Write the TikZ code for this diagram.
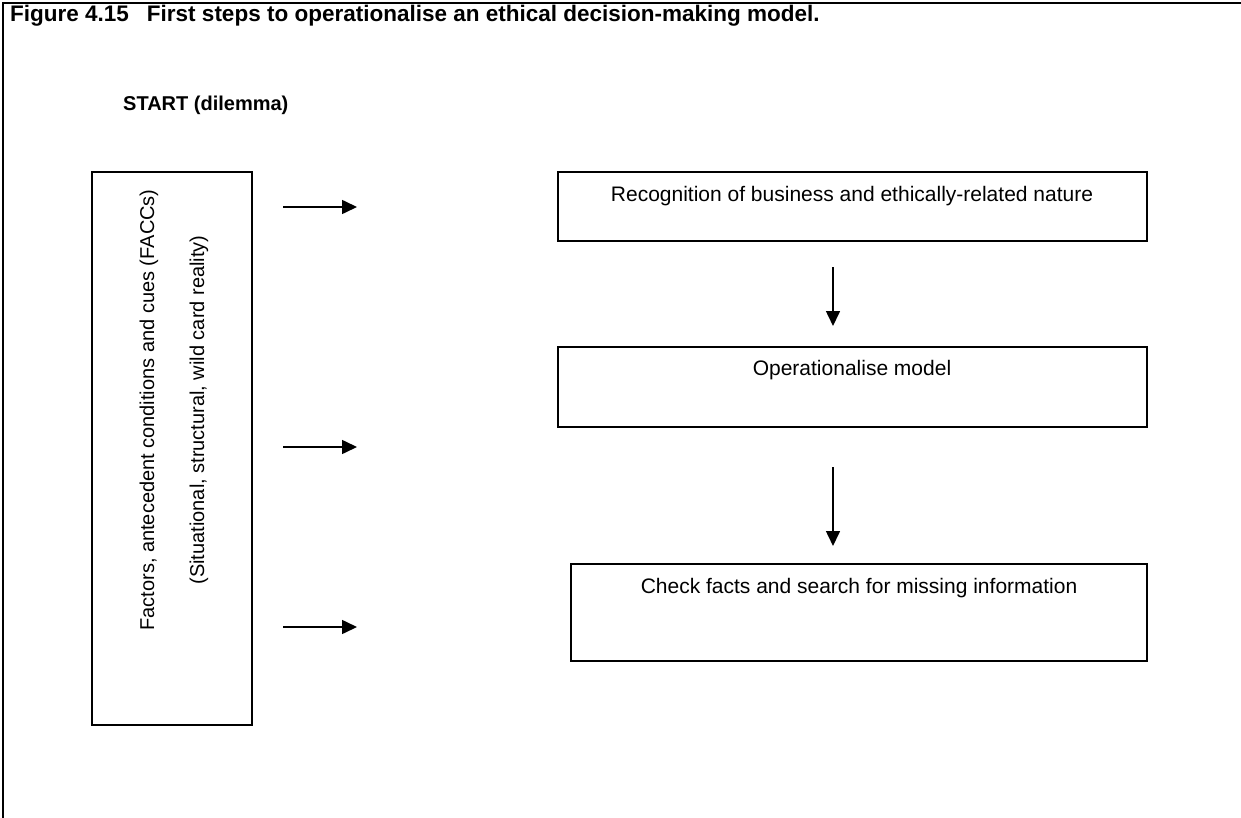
\documentclass[tikz,border=0pt]{standalone}
\usepackage{fontspec}
\setmainfont{Liberation Sans}
\usetikzlibrary{arrows.meta}
\begin{document}
\begin{tikzpicture}[x=1pt,y=-1pt,
  box/.style={draw, line width=1.6pt, anchor=north west, inner sep=0pt, outer sep=0pt},
  txt/.style={font=\fontsize{21}{25}\selectfont, inner sep=0pt},
  vtxt/.style={font=\fontsize{20}{24}\selectfont, inner sep=0pt, rotate=90},
  btxt/.style={font=\bfseries\fontsize{20}{24}\selectfont, inner sep=0pt, anchor=west},
  arr/.style={line width=1.6pt, -{Triangle[length=15pt,width=14pt]}}]
\useasboundingbox (0,0) rectangle (1241,818);
\fill[white] (0,0) rectangle (1241,818);
% frame
\draw[line width=2.6pt] (3,818) -- (3,3) -- (1241,3);
% titles
\node[btxt, font=\bfseries\fontsize{22.5}{26}\selectfont] (title) at (10,16) {Figure 4.15\hspace{0.8em}First steps to operationalise an ethical decision-making model.};
\node[btxt] (start) at (123,105) {START (dilemma)};
% left box
\node[box, minimum width=160pt, minimum height=553pt] (fac) at (92,172) {};
\node[vtxt] (fac1) at (149,410) {Factors, antecedent conditions and cues (FACCs)};
\node[vtxt] (fac2) at (199,410) {(Situational, structural, wild card reality)};
% right boxes
\node[box, minimum width=589pt, minimum height=69pt] (recog) at (558,172) {};
\node[txt] (recogt) at (852,196) {Recognition of business and ethically-related nature};
\node[box, minimum width=589pt, minimum height=80pt] (oper) at (558,347) {};
\node[txt] (opert) at (852,370) {Operationalise model};
\node[box, minimum width=576pt, minimum height=97pt] (check) at (571,564) {};
\node[txt] (checkt) at (859,588) {Check facts and search for missing information};
% arrow coordinates
\coordinate (h1s) at (283,207); \coordinate (h1e) at (357,207);
\coordinate (h2s) at (283,447); \coordinate (h2e) at (357,447);
\coordinate (h3s) at (283,627); \coordinate (h3e) at (357,627);
\coordinate (v1s) at (833,267); \coordinate (v1e) at (833,326);
\coordinate (v2s) at (833,467); \coordinate (v2e) at (833,546);
\draw[arr] (h1s) -- (h1e);
\draw[arr] (h2s) -- (h2e);
\draw[arr] (h3s) -- (h3e);
\draw[arr] (v1s) -- (v1e);
\draw[arr] (v2s) -- (v2e);
\end{tikzpicture}
\end{document}
